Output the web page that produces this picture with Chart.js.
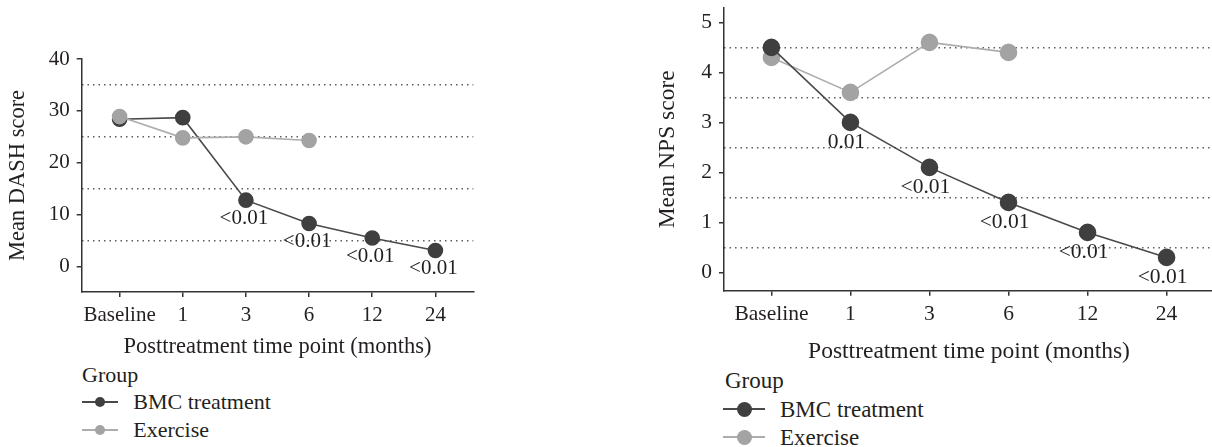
<!DOCTYPE html>
<html>
<head>
<meta charset="utf-8">
<script src="https://cdn.jsdelivr.net/npm/chart.js@4.4.1/dist/chart.umd.min.js"></script>
<style>
  html, body { margin: 0; padding: 0; background: #fff; }
  body { width: 1212px; height: 447px; position: relative; overflow: hidden; font-family: 'Liberation Serif', 'DejaVu Serif', serif; color: #231f20; }
  .box { position: absolute; top: 0; }
  .leg { position: absolute; white-space: nowrap; line-height: 1; }
  .key { position: absolute; }
  .key .ln { position: absolute; left: 0; right: 0; top: 50%; height: 2px; margin-top: -1px; }
  .key .dot { position: absolute; top: 50%; left: 50%; border-radius: 50%; }
</style>
</head>
<body>
<div class="box" style="left:0; width:480px; height:361px;"><canvas id="dashChart"></canvas></div>
<div class="box" style="left:650px; top:-12px; width:565px; height:378px;"><canvas id="npsChart"></canvas></div>
<div id="legendLeft"></div>
<div id="legendRight"></div>
<script>
// waktu pengamatan (sumbu x)
const timeLabels = ['Baseline', '1', '3', '6', '12', '24'];

// DASH
const dashBmc = [28.4, 28.7, 12.8, 8.3, 5.5, 3.1];
const dashExercise = [28.9, 24.8, 25.0, 24.3];
const dashPLabels = ['', '', '<0.01', '<0.01', '<0.01', '<0.01'];
const dashTicks = [0, 10, 20, 30, 40];
const dashGrid = [5, 15, 25, 35];

// NPS
const npsBmc = [4.5, 3.0, 2.1, 1.4, 0.8, 0.3];
const npsExercise = [4.3, 3.6, 4.6, 4.4];
const npsPLabels = ['', '0.01', '<0.01', '<0.01', '<0.01', '<0.01'];
const npsTicks = [0, 1, 2, 3, 4, 5];
const npsGrid = [0.5, 1.5, 2.5, 3.5, 4.5];

const groupNames = ['BMC treatment', 'Exercise'];

const fontFamily = "'Liberation Serif', 'DejaVu Serif', serif";
const textColor = '#231f20';
const axisColor = '#333333';
const bmcPoint = '#3f3f3f';
const bmcLine = '#4a4a4a';
const exPoint = '#a3a3a3';
const exLine = '#adadad';

// tulisan nilai p di bawah titik BMC
const pLabelPlugin = {
    id: 'pLabels',
    afterDatasetsDraw(chart, args, opts) {
        const meta = chart.getDatasetMeta(opts.dataset);
        const ctx = chart.ctx;
        ctx.save();
        ctx.font = opts.size + 'px ' + fontFamily;
        ctx.fillStyle = textColor;
        ctx.textAlign = 'center';
        ctx.textBaseline = 'middle';
        meta.data.forEach((pt, i) => {
            const t = opts.labels[i];
            if (t) ctx.fillText(t, pt.x + opts.dx, pt.y + opts.dy);
        });
        ctx.restore();
    }
};

function toPoints(arr) {
    return arr.map((v, i) => ({ x: i, y: v }));
}

function buatGrafik(id, s) {
    const tickFont = { family: fontFamily, size: s.tickSize };
    const titleFont = { family: fontFamily, size: s.titleSize };
    return new Chart(document.getElementById(id), {
        type: 'line',
        data: {
            datasets: [{
                label: groupNames[0],
                data: toPoints(s.bmc),
                borderColor: bmcLine,
                borderWidth: 1.6,
                pointBackgroundColor: bmcPoint,
                pointBorderColor: bmcPoint,
                pointRadius: s.radius,
                tension: 0,
                order: s.bmcOnTop ? 1 : 2
            }, {
                label: groupNames[1],
                data: toPoints(s.exercise),
                borderColor: exLine,
                borderWidth: 1.6,
                pointBackgroundColor: exPoint,
                pointBorderColor: exPoint,
                pointRadius: s.radius,
                tension: 0,
                order: s.bmcOnTop ? 2 : 1
            }]
        },
        options: {
            responsive: true,
            maintainAspectRatio: false,
            animation: false,
            events: [],
            layout: { autoPadding: false, padding: { top: s.top, right: s.right, bottom: 0, left: 0 } },
            plugins: {
                legend: { display: false },
                tooltip: { enabled: false },
                pLabels: { dataset: 0, labels: s.pLabels, dx: s.labelDx, dy: s.labelDy, size: s.tickSize }
            },
            scales: {
                x: {
                    type: 'linear',
                    min: -0.6,
                    max: 5.6,
                    afterBuildTicks: sc => { sc.ticks = timeLabels.map((_, i) => ({ value: i })); },
                    ticks: {
                        callback: v => timeLabels[v],
                        autoSkip: false,
                        maxRotation: 0,
                        font: tickFont,
                        color: textColor,
                        padding: 6
                    },
                    grid: { drawOnChartArea: false, tickLength: 5, color: axisColor, lineWidth: 1.5 },
                    border: { color: axisColor, width: 1.5 },
                    title: {
                        display: true,
                        text: 'Posttreatment time point (months)',
                        font: titleFont,
                        color: textColor,
                        padding: { top: 0, bottom: 0 }
                    },
                    afterFit: sc => { sc.height = s.xHeight; }
                },
                y: {
                    type: 'linear',
                    position: 'left',
                    min: s.min,
                    max: s.max,
                    afterBuildTicks: sc => { sc.ticks = s.ticks.map(v => ({ value: v })); },
                    ticks: { font: tickFont, color: textColor, padding: 7 },
                    grid: { drawOnChartArea: false, tickLength: 5, color: axisColor, lineWidth: 1.5 },
                    border: { color: axisColor, width: 1.5 },
                    title: {
                        display: true,
                        text: s.yTitle,
                        font: titleFont,
                        color: textColor,
                        padding: { top: s.yTitlePad, bottom: 0 }
                    },
                    afterFit: sc => { sc.width = s.yWidth; }
                },
                yg: {
                    type: 'linear',
                    position: 'left',
                    min: s.min,
                    max: s.max,
                    afterBuildTicks: sc => { sc.ticks = s.grid.map(v => ({ value: v })); },
                    ticks: { display: false },
                    grid: { drawTicks: false, color: '#5e5e5e', lineWidth: 1.4 },
                    border: { display: false, dash: [1.5, 4] },
                    afterFit: sc => { sc.width = 0; }
                }
            }
        },
        plugins: [pLabelPlugin]
    });
}

buatGrafik('dashChart', {
    bmc: dashBmc, exercise: dashExercise, pLabels: dashPLabels,
    ticks: dashTicks, grid: dashGrid, min: -4.9, max: 40,
    yTitle: 'Mean DASH score', tickSize: 21, titleSize: 22.5, yTitlePad: 5,
    radius: 7, labelDx: -2, labelDy: 18, bmcOnTop: false,
    top: 59, right: 6.7, xHeight: 69, yWidth: 81.7
});

buatGrafik('npsChart', {
    bmc: npsBmc, exercise: npsExercise, pLabels: npsPLabels,
    ticks: npsTicks, grid: npsGrid, min: -0.366, max: 5.29,
    yTitle: 'Mean NPS score', tickSize: 21.5, titleSize: 23.5, yTitlePad: 4,
    radius: 8, labelDx: -4, labelDy: 20, bmcOnTop: true,
    top: 6, right: 1, xHeight: 75.3, yWidth: 74
});

// legenda HTML
function buatLegenda(elId, p) {
    const el = document.getElementById(elId);
    const colors = [[bmcLine, bmcPoint], [exLine, exPoint]];
    let html = '<div class="leg" style="left:' + p.x + 'px; top:' + (p.groupY - p.size / 2) + 'px; font-size:' + p.size + 'px;">Group</div>';
    groupNames.forEach((name, i) => {
        const cy = p.rowY[i];
        const d = p.r * 2;
        html += '<div class="key" style="left:' + p.lineX + 'px; width:' + p.lineW + 'px; top:' + (cy - 10) + 'px; height:20px;">' +
            '<div class="ln" style="background:' + colors[i][0] + '"></div>' +
            '<div class="dot" style="width:' + d + 'px; height:' + d + 'px; margin:' + (-p.r) + 'px 0 0 ' + (-p.r) + 'px; background:' + colors[i][1] + '"></div></div>';
        html += '<div class="leg" style="left:' + p.textX + 'px; top:' + (cy - p.size / 2) + 'px; font-size:' + p.size + 'px;">' + name + '</div>';
    });
    el.innerHTML = html;
}

buatLegenda('legendLeft', { x: 82, groupY: 375, rowY: [401.7, 430], lineX: 81.7, lineW: 36.6, r: 5, textX: 133.3, size: 22 });
buatLegenda('legendRight', { x: 725, groupY: 380, rowY: [409, 437.3], lineX: 723.3, lineW: 41.7, r: 7.5, textX: 780, size: 23 });
</script>
</body>
</html>
